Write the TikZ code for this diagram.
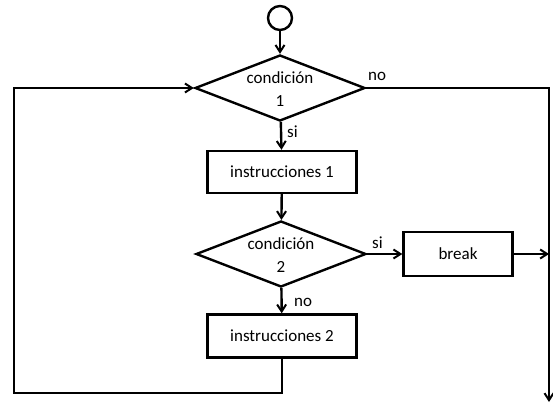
\documentclass[tikz,border=0pt]{standalone}
\usepackage{fontspec}
\setmainfont{Carlito}
\usetikzlibrary{shapes.geometric,arrows.meta}
\begin{document}
\begin{tikzpicture}[x=1pt,y=-1pt,
  every node/.style={font=\fontsize{17}{23}\selectfont},
  flow/.style={line width=2.4pt,line join=miter},
  arr/.style={flow,-{Straight Barb[length=7pt,width=9pt,line width=2pt]}},
  decision/.style={draw,line width=2.4pt,diamond,minimum width=170pt,minimum height=66pt,inner sep=0pt},
  dtext/.style={align=center,inner sep=0pt},
  process/.style={draw,line width=2.4pt,rectangle,minimum width=149pt,minimum height=42pt,inner sep=0pt},
  lbl/.style={inner sep=0pt,anchor=base west}]
\useasboundingbox (0,0) rectangle (553,406);

\node[draw,circle,line width=2.4pt,minimum size=24pt,inner sep=0pt] (start) at (280,18) {};

% decisions: outline and text kept apart so the diamond keeps its flat proportions
\node[decision] (c1) at (280,88) {};
\node[dtext] (c1t) at (280,89) {condición\\1};
\node[process] (i1) at (282,172) {instrucciones 1};
\node[decision] (c2) at (281,254) {};
\node[dtext] (c2t) at (281,255) {condición\\2};
\node[process,minimum width=109pt,minimum height=44pt] (brk) at (458,254) {break};
\node[process,minimum height=43pt] (i2) at (282,336) {instrucciones 2};

\coordinate (rtop) at (549,88);
\coordinate (rbrk) at (549,254);
\coordinate (fin) at (549,402);
\coordinate (lbot) at (14,393);
\coordinate (ltop) at (14,88);

\node[lbl] (no1) at (368,81) {no};
\node[lbl] (si1) at (287,138) {si};
\node[lbl] (si2) at (372,248) {si};
\node[lbl] (no2) at (294,306) {no};

\draw[arr] (start) -- (c1);
\draw[arr] (c1) -- (i1);
\draw[arr] (i1) -- (c2);
\draw[arr] (c2) -- (brk);
\draw[arr] (c2) -- (i2);
\draw[arr] (brk) -- (rbrk);
\draw[arr] (c1.east) -- (rtop) -- (fin);
\draw[arr] (i2.south) |- (lbot) -- (ltop) -- (c1.west);
\end{tikzpicture}
\end{document}
